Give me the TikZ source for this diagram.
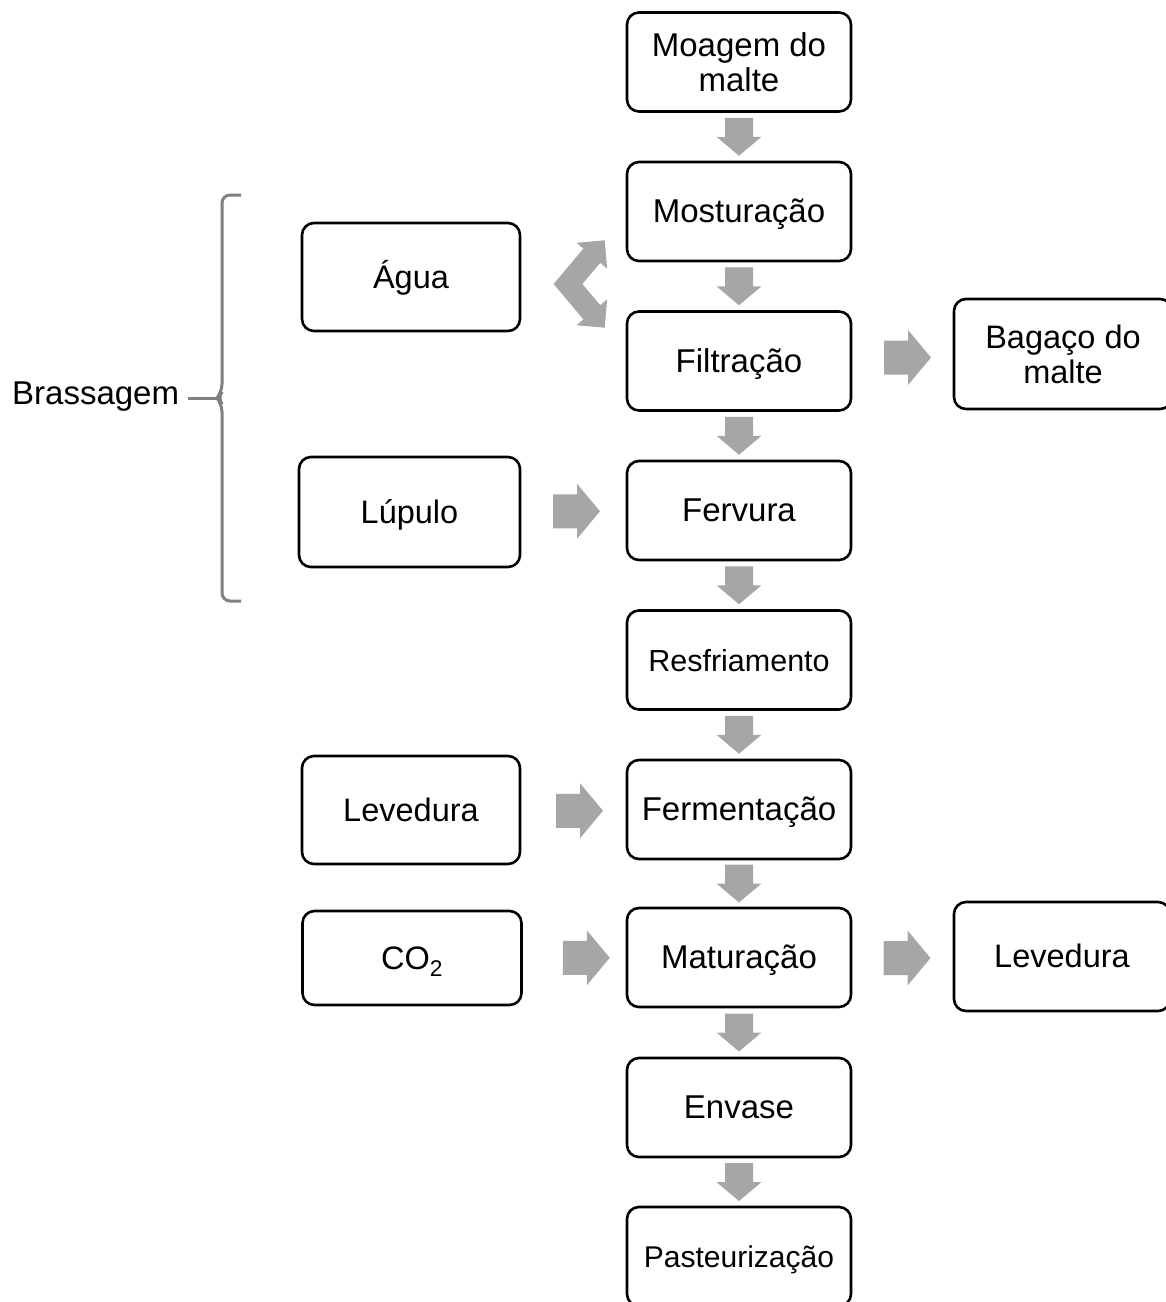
\documentclass[tikz,border=0pt]{standalone}
\usepackage{fontspec}
\setmainfont{Liberation Sans}
\usetikzlibrary{calc}
\definecolor{arrgray}{RGB}{166,166,166}
\definecolor{brgray}{RGB}{128,128,128}
\tikzset{
  box/.style={draw=black, line width=2.6pt, rounded corners=12pt, fill=white,
    align=center, inner sep=0pt, font=\fontsize{32.5}{35}\selectfont},
  oneline/.style={text height=29.6pt, text depth=6.9pt},
  mainbox/.style={box, minimum width=224pt, minimum height=99pt, font=\fontsize{33}{35}\selectfont},
  sidebox/.style={box, minimum width=218pt, minimum height=108pt},
  blk/.style={fill=arrgray, draw=none},
  bracestyle/.style={draw=brgray, line width=3pt},
}
\newcommand\downblk[1]{\fill[blk, shift={#1}] (-14,-19) -- (14,-19) -- (14,0) -- (22.5,0) -- (0,19) -- (-22.5,0) -- (-14,0) -- cycle;}
\newcommand\rightblk[1]{\fill[blk, shift={#1}] (-23.5,-17) -- (0.5,-17) -- (0.5,-27.5) -- (23.5,0) -- (0.5,27.5) -- (0.5,17) -- (-23.5,17) -- cycle;}
\begin{document}
\begin{tikzpicture}[x=1pt, y=-1pt]
\useasboundingbox (0,0) rectangle (1166,1302);
\clip (0,0) rectangle (1166,1302);
% main column
\node[mainbox] (moag) at (739,62) {Moagem do\\malte};
\node[mainbox, oneline] (most) at (739,211.5) {Mosturação};
\node[mainbox, oneline] (filt) at (739,361) {Filtração};
\node[mainbox, oneline] (ferv) at (739,510.5) {Fervura};
\node[mainbox, oneline, font=\fontsize{30.5}{33}\selectfont] (resf) at (739,660) {Resfriamento};
\node[mainbox, oneline] (ferm) at (739,809.5) {Fermentação};
\node[mainbox, oneline] (matu) at (739,957.5) {Maturação};
\node[mainbox, oneline] (envs) at (739,1107.5) {Envase};
\node[mainbox, oneline, font=\fontsize{30}{33}\selectfont] (past) at (739,1256.5) {Pasteurização};
% side boxes
\node[sidebox, oneline] (agua) at (411,277) {Água};
\node[sidebox, oneline, minimum width=221pt, minimum height=110pt] (lupu) at (409.5,512) {Lúpulo};
\node[sidebox, oneline] (levl) at (411,810) {Levedura};
\node[sidebox, oneline, minimum width=219pt, minimum height=94pt] (co2) at (412,958) {CO\textsubscript{2}};
\node[sidebox, minimum height=110pt] (baga) at (1063,354) {Bagaço do\\malte};
\node[sidebox, oneline, minimum width=216pt, minimum height=109pt] (levr) at (1062,956.5) {Levedura};
% down arrows
\downblk{($(moag.south)!.5!(most.north)$)}
\downblk{($(most.south)!.5!(filt.north)$)}
\downblk{($(filt.south)!.5!(ferv.north)$)}
\downblk{($(ferv.south)!.5!(resf.north)$)}
\downblk{($(resf.south)!.5!(ferm.north)$)}
\downblk{($(ferm.south)!.5!(matu.north)$)}
\downblk{($(matu.south)!.5!(envs.north)$)}
\downblk{($(envs.south)!.5!(past.north)$)}
% right arrows
\rightblk{($(lupu.east)!.5!(ferv.west)+(3,0)$)}
\rightblk{($(levl.east)!.5!(ferm.west)+(6,1)$)}
\rightblk{($(co2.east)!.5!(matu.west)+(12,0)$)}
\rightblk{($(filt.east)!.5!(baga.west)+(5,0)$)}
\rightblk{($(matu.east)!.5!(levr.west)+(4.5,1)$)}
% double bent arrow between Agua and Mosturacao/Filtracao
\coordinate (bend) at (568,284);
\fill[blk, shift={(bend)}] (-14.4,0) -- (15.4,-35.4) -- (8.5,-41.2) -- (36.7,-43.7) -- (39.1,-15.4) -- (32.2,-21.2) -- (14.4,0)
  -- (32.2,21.2) -- (39.1,15.4) -- (36.7,43.7) -- (8.5,41.2) -- (15.4,35.4) -- cycle;
% Brassagem brace
\node[anchor=base west, inner sep=0pt, font=\fontsize{33}{35}\selectfont] (brass) at (12,404) {Brassagem};
\coordinate (cusp) at (217,398);
\draw[bracestyle, rounded corners=8pt] (241,195) -- (222,195) -- (222,392) -- (cusp) -- (222,404) -- (222,601) -- (241,601);
\draw[bracestyle] ($(brass.east |- cusp)+(9,0)$) -- (cusp);
\end{tikzpicture}
\end{document}
